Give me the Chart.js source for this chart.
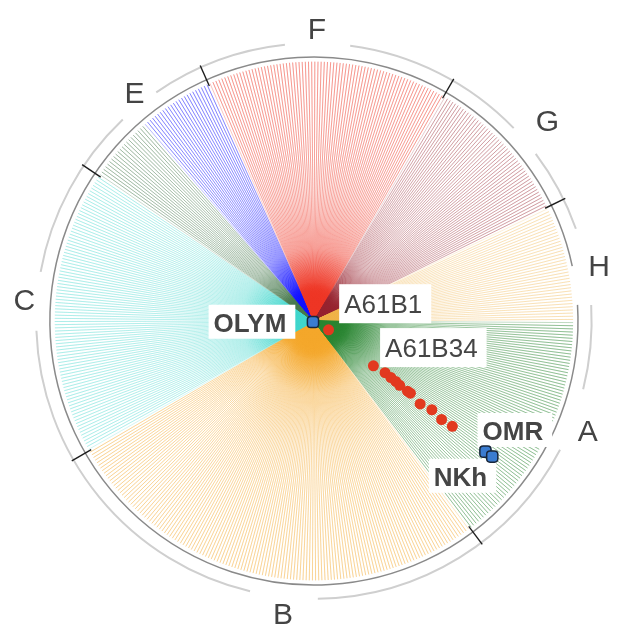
<!DOCTYPE html>
<html lang="en">
<head>
    <meta charset="UTF-8">
    <title>Radial tree</title>
    <script src="https://cdn.jsdelivr.net/npm/chart.js"></script>
    <style>
        body {
            margin: 0;
            background-color: #ffffff;
        }
        canvas {
            display: block;
        }
    </style>
</head>
<body>
    <canvas id="treeChart" width="624" height="643" style="width:624px;height:643px"></canvas>

    <script>
        // Sectors of leaves, angles in degrees counter-clockwise from east
        const sectorNames  = ['A', 'H', 'G', 'F', 'E blue', 'E green', 'C', 'B'];
        const sectorFrom   = [-53, 0, 26, 60, 114, 131, 146, 210];
        const sectorTo     = [0, 26, 60, 114, 131, 146, 210, 307];
        const sectorLeaves = [76, 37, 49, 77, 24, 21, 91, 139];
        const sectorColors = ['40,132,48', '240,178,70', '150,34,46', '238,53,36', '16,16,255', '70,120,76', '63,214,204', '244,167,42'];
        const sectorAlpha  = [1, 0.75, 0.85, 1, 1, 1, 0.82, 0.95];

        // Clade labels round the outside
        const cladeLabels = ['A', 'B', 'C', 'E', 'F', 'G', 'H'];
        const cladeAngles = [-22, -96, 176, 128.3, 89.4, 40.5, 10.8];
        const cladeRadius = [303, 303, 298, 297, 299, 315, 298];

        // Boundary ticks on the circle and light outer arcs
        const tickAngles   = [-53, 26, 60, 114, 146, 210];
        const outerArcFrom = [-89.2, -14.2, 19.4, 44, 96, 133.5, 182];
        const outerArcTo   = [-27.6, 3.3, 37, 82.5, 124.6, 169.8, 256.7];

        // Marked samples
        const a61b34X = [61, 73, 79, 84, 88, 96, 99, 109, 121, 131, 142];
        const a61b34Y = [-46, -53, -58, -62, -66, -72, -74, -85, -91, -101, -108];
        const a61b1X = [15];
        const a61b1Y = [-9];
        const refNames = ['OLYM', 'OMR', 'NKh'];
        const refX = [-1, 176, 183];
        const refY = [-1, -134, -139];

        // Text boxes: text, x and baseline y where the text starts, bold or not
        const tagText = ['OLYM', 'A61B1', 'A61B34', 'OMR', 'NKh'];
        const tagX = [-103, 31, 73, 173, 123];
        const tagY = [-11, 8, -37, -122, -169];
        const tagBold = [true, false, false, true, true];

        const LEAF_R = 266;
        const CIRCLE_R = 271;
        const ARC_R = 285;

        const rad = d => d * Math.PI / 180;

        const gradCache = {};
        function rayColor(rgb, k) {
            return function (context) {
                const chart = context.chart;
                if (!chart.chartArea) return 'rgba(' + rgb + ',0.3)';
                if (gradCache[rgb]) return gradCache[rgb];
                const cx = chart.scales.x.getPixelForValue(0);
                const cy = chart.scales.y.getPixelForValue(0);
                const r = chart.scales.x.getPixelForValue(LEAF_R) - cx;
                const g = chart.ctx.createRadialGradient(cx, cy, 0, cx, cy, r);
                g.addColorStop(0, 'rgba(' + rgb + ',1)');
                g.addColorStop(0.07, 'rgba(' + rgb + ',' + (0.88 * k) + ')');
                g.addColorStop(0.15, 'rgba(' + rgb + ',' + (0.45 * k) + ')');
                g.addColorStop(0.28, 'rgba(' + rgb + ',' + (0.27 * k) + ')');
                g.addColorStop(0.5, 'rgba(' + rgb + ',' + (0.25 * k) + ')');
                g.addColorStop(1, 'rgba(' + rgb + ',' + (0.3 * k) + ')');
                gradCache[rgb] = g;
                return g;
            };
        }

        // One zigzag line per sector: centre -> leaf -> centre -> leaf ...
        const rayDatasets = sectorNames.map((name, i) => {
            const pts = [];
            const n = sectorLeaves[i];
            const step = (sectorTo[i] - sectorFrom[i]) / n;
            for (let k = 0; k < n; k++) {
                const a = rad(sectorFrom[i] + (k + 0.5) * step);
                pts.push({x: 0, y: 0});
                pts.push({x: LEAF_R * Math.cos(a), y: LEAF_R * Math.sin(a)});
            }
            return {
                label: name,
                data: pts,
                showLine: true,
                borderWidth: 1,
                borderColor: rayColor(sectorColors[i], sectorAlpha[i]),
                borderJoinStyle: 'bevel',
                pointRadius: 0,
                pointHitRadius: 0,
                order: 10
            };
        });

        const pointDatasets = [
            {
                label: 'A61B34',
                data: a61b34X.map((x, i) => ({x: x, y: a61b34Y[i]})),
                pointRadius: 5.5,
                backgroundColor: '#e2391f',
                borderWidth: 0,
                order: 1
            },
            {
                label: 'A61B1',
                data: a61b1X.map((x, i) => ({x: x, y: a61b1Y[i]})),
                pointRadius: 5.5,
                backgroundColor: '#e2391f',
                borderWidth: 0,
                order: 1
            },
            {
                label: 'reference',
                data: refX.map((x, i) => ({x: x, y: refY[i], name: refNames[i]})),
                pointStyle: 'rectRounded',
                pointRadius: 6.5,
                backgroundColor: '#3a7cd0',
                borderColor: '#18263a',
                borderWidth: 1.5,
                order: 0
            }
        ];

        let raysDrawn = 0;

        function drawTags(chart) {
            const ctx = chart.ctx;
            ctx.save();
            ctx.textAlign = 'left';
            ctx.textBaseline = 'alphabetic';
            tagText.forEach((t, i) => {
                const x = chart.scales.x.getPixelForValue(tagX[i]);
                const y = chart.scales.y.getPixelForValue(tagY[i]);
                ctx.font = (tagBold[i] ? 'bold 26px' : '26px') + ' "Liberation Sans", Arial, sans-serif';
                const w = ctx.measureText(t).width;
                ctx.fillStyle = '#ffffff';
                if (tagBold[i]) ctx.fillRect(x - 5, y - 27, w + 14, 34);
                else ctx.fillRect(x - 5, y - 29, w + 14, 39);
                ctx.fillStyle = '#454545';
                ctx.fillText(t, x, y);
            });
            ctx.restore();
        }

        const decorPlugin = {
            id: 'decor',
            beforeDatasetsDraw(chart) {
                raysDrawn = 0;
                const ctx = chart.ctx;
                const cx = chart.scales.x.getPixelForValue(0);
                const cy = chart.scales.y.getPixelForValue(0);
                const px = r => chart.scales.x.getPixelForValue(r) - cx;

                ctx.save();
                // inner circle, open next to H
                ctx.strokeStyle = '#8a8a8a';
                ctx.lineWidth = 1.5;
                ctx.beginPath();
                ctx.arc(cx, cy, px(CIRCLE_R), rad(-363.5), rad(-12));
                ctx.stroke();

                // outer light arcs
                ctx.strokeStyle = '#cfcfcf';
                ctx.lineWidth = 2;
                outerArcFrom.forEach((a0, i) => {
                    ctx.beginPath();
                    ctx.arc(cx, cy, px(ARC_R), rad(-outerArcTo[i]), rad(-a0));
                    ctx.stroke();
                });

                // boundary ticks
                ctx.strokeStyle = '#1e1e1e';
                ctx.lineWidth = 1.4;
                tickAngles.forEach(a => {
                    const c = Math.cos(rad(a)), s = Math.sin(rad(a));
                    ctx.beginPath();
                    ctx.moveTo(cx + px(264) * c, cy - px(264) * s);
                    ctx.lineTo(cx + px(287) * c, cy - px(287) * s);
                    ctx.stroke();
                });

                // clade letters
                ctx.fillStyle = '#444444';
                ctx.font = '30px "Liberation Sans", Arial, sans-serif';
                ctx.textAlign = 'center';
                ctx.textBaseline = 'middle';
                cladeLabels.forEach((t, i) => {
                    const a = rad(cladeAngles[i]);
                    ctx.fillText(t, cx + px(cladeRadius[i]) * Math.cos(a), cy - px(cladeRadius[i]) * Math.sin(a) + 1);
                });
                ctx.restore();
            },
            afterDatasetDraw(chart) {
                raysDrawn++;
                // white text boxes go over the rays but under the markers
                if (raysDrawn === rayDatasets.length) drawTags(chart);
            }
        };

        new Chart(document.getElementById('treeChart').getContext('2d'), {
            type: 'scatter',
            data: {
                datasets: rayDatasets.concat(pointDatasets)
            },
            options: {
                responsive: false,
                animation: false,
                layout: { padding: 0 },
                scales: {
                    x: { type: 'linear', min: -314, max: 310, display: false },
                    y: { type: 'linear', min: -322, max: 321, display: false }
                },
                plugins: {
                    legend: { display: false },
                    tooltip: { enabled: false }
                }
            },
            plugins: [decorPlugin]
        });
    </script>
</body>
</html>
